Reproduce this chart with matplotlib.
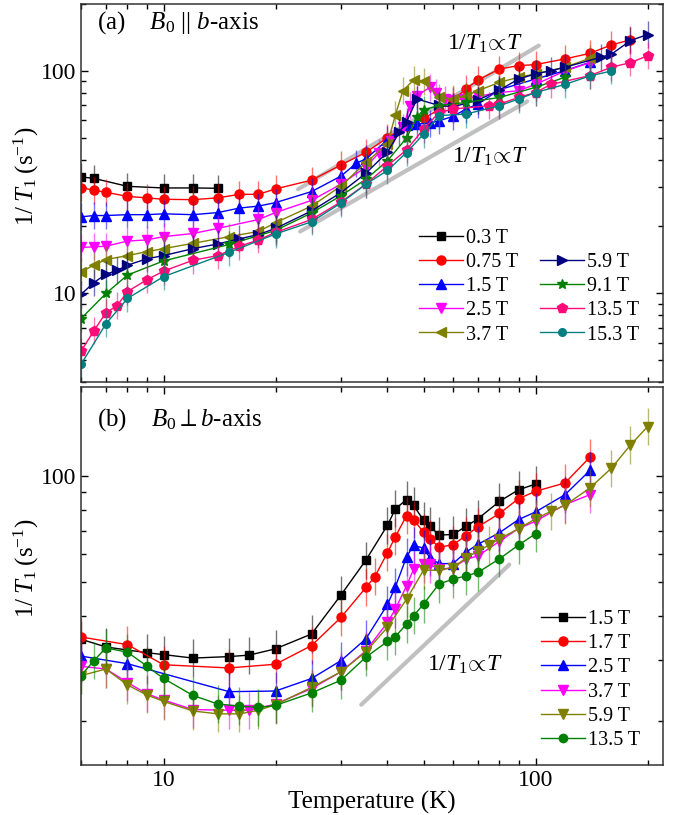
import numpy as np
import matplotlib
matplotlib.use('Agg')
import matplotlib.pyplot as plt
from matplotlib import ticker
from matplotlib.lines import Line2D

plt.rcParams['font.family'] = ['Liberation Serif', 'DejaVu Serif']
plt.rcParams['mathtext.fontset'] = 'custom'
plt.rcParams['mathtext.rm'] = 'Liberation Serif'
plt.rcParams['mathtext.it'] = 'Liberation Serif:italic'
plt.rcParams['mathtext.bf'] = 'Liberation Serif:bold'
plt.rcParams['mathtext.default'] = 'it'

# ---- panel (a): B0 || b-axis ----
t_a03 = [6, 6.5, 8, 10, 12, 14]
v_a03 = [33.4, 32.9, 30.3, 29.8, 29.8, 29.7]

t_a075 = [6, 6.5, 7, 8, 9, 10, 12, 14, 16, 18, 20, 25, 30, 35, 40, 45, 50, 55, 60, 65, 70, 80, 90, 100, 120, 140, 160, 180]
v_a075 = [29.9, 29.1, 28.5, 27.3, 26.9, 26.5, 26.4, 26.9, 27.9, 27.9, 29.5, 32.3, 37.8, 43.1, 50.1, 56.7, 61.2, 67.0, 74.0, 83.0, 91.1, 102, 105.7, 106.8, 113.3, 120, 131, 138]

t_a15 = [6, 6.5, 7, 8, 9, 10, 12, 14, 16, 18, 20, 25, 30, 33, 35, 40, 45, 48, 52, 55, 60, 65, 70, 80, 100, 120, 140]
v_a15 = [22.1, 22.4, 22.4, 22.6, 22.6, 22.8, 22.6, 23.1, 24.2, 24.7, 25.6, 28.7, 33.7, 38.5, 40.3, 49, 57.2, 57.7, 58.3, 59.7, 62.5, 67.4, 71.0, 82.4, 92.0, 100.3, 109.4]

t_a25 = [6, 6.5, 7, 8, 9, 10, 12, 14, 18, 20, 25, 30, 35, 38, 41, 44, 46, 48, 52, 54, 57, 60, 64, 70, 80, 90, 100, 120, 140]
v_a25 = [16.1, 16.2, 16.3, 17.2, 17.4, 18.0, 18.6, 19.6, 21.5, 23.1, 26.2, 31, 37, 43, 48.6, 55.8, 69.8, 77.4, 84.4, 80, 74.8, 74, 74.8, 77, 80, 81.5, 87, 100, 109]

t_a37 = [6, 6.5, 7, 8, 9, 10, 12, 15, 18, 20, 25, 30, 35, 40, 42, 44, 47, 50, 55, 60, 65, 70, 80, 90, 100, 120, 140]
v_a37 = [12.5, 13.4, 14.2, 14.8, 15.4, 15.9, 16.8, 18.0, 19.0, 20.8, 24.7, 30.4, 38.8, 47, 63.4, 81.5, 91.1, 90.1, 76, 75, 77.4, 81.5, 88.9, 93.7, 97, 104, 114]

t_a59 = [6, 6.5, 7, 7.5, 8, 9, 10, 12, 14, 16, 18, 20, 25, 30, 35, 40, 43, 45, 48, 55, 60, 70, 80, 90, 100, 110, 120, 150, 160, 180, 200]
v_a59 = [9.9, 11.2, 12.2, 12.7, 13.4, 14.3, 14.8, 15.9, 16.7, 17.6, 18.4, 19.6, 23.5, 28.4, 34.7, 43.2, 52.9, 59.1, 74.8, 70, 69, 74, 82, 92, 97, 100.3, 103.9, 115.3, 119, 137, 145.8]

t_a91 = [6, 7, 8, 10, 15, 20, 25, 30, 35, 40, 45, 48, 50, 55, 65, 80, 100, 120]
v_a91 = [7.7, 10.0, 12.1, 14.0, 16.6, 19.2, 23, 27.5, 32.6, 39.5, 50, 62, 67, 69.8, 72.2, 76, 84.4, 93.7]

t_a135 = [6, 6.5, 7, 7.5, 8, 9, 10, 12, 14, 16, 18, 20, 25, 30, 35, 40, 45, 50, 55, 60, 75, 80, 90, 100, 110, 140, 160, 180, 200]
v_a135 = [5.5, 6.8, 8.2, 8.8, 10.2, 11.5, 12.6, 14.1, 14.8, 16.3, 17.4, 18.8, 21.5, 25.8, 31, 37.5, 44.2, 54.8, 65, 67.4, 69.8, 71, 76, 80, 87, 95.3, 104, 109, 117]

t_a153 = [6, 7, 8, 10, 15, 20, 25, 30, 35, 40, 45, 50, 55, 65, 80, 90, 100, 120, 140, 160]
v_a153 = [4.8, 7.3, 9.5, 11.9, 15.3, 18.5, 21, 25.5, 31, 35.7, 43, 52, 63, 64, 69.8, 74.8, 80, 87, 95, 100]

labels_a = ['0.3 T', '0.75 T', '1.5 T', '2.5 T', '3.7 T', '5.9 T', '9.1 T', '13.5 T', '15.3 T']

# ---- panel (b): B0 perp b-axis ----
t_b15 = [6, 7, 9, 10, 12, 15, 17, 20, 25, 30, 35, 40, 42, 45, 47, 50, 52, 55, 60, 65, 70, 80, 90, 100]
v_b15 = [34.3, 32.6, 31.4, 31.0, 30.3, 30.6, 30.9, 32.2, 35.5, 45.9, 57.7, 72.6, 80.8, 85.9, 82.7, 75, 72.2, 68, 68.3, 72, 75.7, 84.9, 91.6, 95.1]

t_b17 = [6, 8, 10, 15, 20, 25, 30, 35, 37, 40, 42, 45, 47, 50, 52, 55, 60, 65, 70, 80, 90, 100, 120, 140]
v_b17 = [34.8, 33.1, 29.0, 28.4, 29.1, 32.9, 39.6, 48.2, 51.8, 60.6, 67.3, 77.3, 75.3, 69.3, 66.5, 62.8, 63.8, 67.8, 71.8, 78.4, 86.4, 90.7, 95.8, 113.5]

t_b25 = [6, 8, 15, 20, 25, 30, 35, 40, 42, 45, 47, 50, 52, 55, 60, 65, 70, 80, 90, 100, 120, 140]
v_b25 = [30.7, 29.2, 24.3, 24.4, 26.5, 29.8, 34.4, 43.1, 48.4, 58.9, 63.6, 62.4, 58.6, 56.4, 56.4, 60.8, 64, 69.1, 75.3, 79.2, 88.7, 104]

t_b37 = [6, 7, 8, 9, 10, 12, 15, 17, 20, 25, 30, 35, 40, 42, 45, 47, 50, 52, 55, 60, 65, 70, 80, 90, 100, 120, 140]
v_b37 = [28.7, 28.2, 25.8, 24.0, 23.0, 21.6, 21.5, 21.5, 22.4, 24.8, 27.7, 31.8, 38.3, 41.8, 48.7, 54.3, 56.1, 56.1, 54.3, 54.9, 58.0, 59.3, 65.3, 71, 74.5, 83.1, 88.7]

t_b59 = [6, 7, 8, 9, 10, 12, 14, 16, 18, 20, 25, 30, 35, 40, 45, 50, 55, 60, 65, 70, 75, 80, 90, 100, 110, 120, 140, 160, 180, 200]
v_b59 = [27.0, 28.2, 25.4, 23.8, 22.8, 21.4, 21.0, 21.0, 21.5, 22.3, 25, 27.7, 31.6, 37.1, 44.6, 54.0, 54.0, 54.9, 58.5, 61.2, 63.7, 66.4, 70.9, 75.7, 79.5, 82.7, 92.7, 105.6, 123, 138.7]

t_b135 = [6, 6.5, 7, 8, 9, 10, 12, 14, 16, 18, 20, 25, 30, 35, 40, 42, 45, 47, 50, 55, 60, 65, 70, 80, 90, 100]
v_b135 = [27.0, 29.8, 32.4, 31.5, 28.8, 26.5, 23.7, 22.4, 22.1, 21.9, 22.2, 24.1, 26.2, 30.5, 33.8, 34.9, 37.9, 40.0, 43.2, 49.3, 50.9, 52.0, 53.2, 58.2, 63.7, 68.6]

labels_b = ['1.5 T', '1.7 T', '2.5 T', '3.7 T', '5.9 T', '13.5 T']

# guide lines 1/T1 ~ T (end points)
guide_a1_t = [23, 102]
guide_a1_v = [29.4, 130]
guide_a2_t = [23.3, 95]
guide_a2_v = [19.0, 73]
guide_b_t = [34, 85]
guide_b_v = [22.3, 56]

err_a = 0.15
err_b = 0.13

fig = plt.figure(figsize=(6.79, 8.15), dpi=100)
ax1 = fig.add_axes([0.1193, 0.5313, 0.857, 0.4638])
ax2 = fig.add_axes([0.1193, 0.0613, 0.857, 0.4638])


def draw(ax, t, v, color, marker, ms, err, label):
    t = np.array(t)
    v = np.array(v)
    ax.errorbar(t, v, yerr=[v - v / (1 + err), v * err], fmt='none',
                ecolor=color, elinewidth=1.0, alpha=0.55, capsize=0)
    h, = ax.plot(t, v, color=color, marker=marker, ms=ms, lw=1.0,
                 mec=color, label=label)
    return h


style_a = [('black', 's', 5.5), ('#ff0000', 'o', 6.5), ('#0000ff', '^', 7),
           ('#ff00ff', 'v', 7), ('#808000', '<', 7), ('#000080', '>', 7),
           ('#008000', '*', 7.5), ('#ff0a78', 'p', 7), ('#008080', 'o', 5.5)]
data_a = [(t_a03, v_a03), (t_a075, v_a075), (t_a15, v_a15), (t_a25, v_a25),
          (t_a37, v_a37), (t_a59, v_a59), (t_a91, v_a91), (t_a135, v_a135),
          (t_a153, v_a153)]

style_b = [('black', 's', 5.5), ('#ff0000', 'o', 6.5), ('#0000ff', '^', 7),
           ('#ff00ff', 'v', 7), ('#808000', 'v', 7), ('#008000', 'o', 6)]
data_b = [(t_b15, v_b15), (t_b17, v_b17), (t_b25, v_b25), (t_b37, v_b37),
          (t_b59, v_b59), (t_b135, v_b135)]

ax1.plot(guide_a1_t, guide_a1_v, color='#c0c0c0', lw=3, solid_capstyle='round', zorder=0)
ax1.plot(guide_a2_t, guide_a2_v, color='#c0c0c0', lw=3, solid_capstyle='round', zorder=0)
ax2.plot(guide_b_t, guide_b_v, color='#c0c0c0', lw=3, solid_capstyle='round', zorder=0)

handles_a = []
for (t, v), (c, m, ms), lab in zip(data_a, style_a, labels_a):
    handles_a.append(draw(ax1, t, v, c, m, ms, err_a, lab))
handles_b = []
for (t, v), (c, m, ms), lab in zip(data_b, style_b, labels_b):
    handles_b.append(draw(ax2, t, v, c, m, ms, err_b, lab))

blank = Line2D([], [], linestyle='none', marker='none')
leg_h = handles_a[:5] + [blank] + handles_a[5:]
leg_l = labels_a[:5] + [''] + labels_a[5:]
ax1.legend(leg_h, leg_l, ncol=2, loc='upper left', bbox_to_anchor=(0.58, 0.405),
           frameon=False, fontsize=14.5, handlelength=2.2, handletextpad=0.15,
           columnspacing=1.1, labelspacing=0.25, borderpad=0, borderaxespad=0)
ax2.legend(handles_b, labels_b, loc='upper left', bbox_to_anchor=(0.79, 0.41),
           frameon=False, fontsize=14.5, handlelength=2.2, handletextpad=0.15,
           labelspacing=0.25, borderpad=0, borderaxespad=0)

ylabel = r'$1/\;T_1\;\mathrm{(s^{-1})}$'
for ax, ylim, ylab_y in [(ax1, (4, 200), 0.545), (ax2, (15, 180), 0.52)]:
    ax.set_xscale('log')
    ax.set_yscale('log')
    ax.set_xlim(6, 220)
    ax.set_ylim(*ylim)
    ax.xaxis.set_major_locator(ticker.LogLocator(base=10))
    ax.xaxis.set_minor_locator(ticker.LogLocator(base=10, subs=np.arange(2, 10)))
    ax.yaxis.set_major_locator(ticker.LogLocator(base=10))
    ax.yaxis.set_minor_locator(ticker.LogLocator(base=10, subs=np.arange(2, 10)))
    ax.xaxis.set_major_formatter(ticker.FormatStrFormatter('%g'))
    ax.yaxis.set_major_formatter(ticker.FormatStrFormatter('%g'))
    ax.xaxis.set_minor_formatter(ticker.NullFormatter())
    ax.yaxis.set_minor_formatter(ticker.NullFormatter())
    ax.tick_params(which='both', direction='in', top=True, right=True, labelsize=17)
    ax.tick_params(which='major', length=5, width=1)
    ax.tick_params(which='minor', length=3.5, width=1)
    for s in ax.spines.values():
        s.set_linewidth(1.1)
        s.set_color('#333333')
    ax.set_ylabel(ylabel, fontsize=18)
    ax.yaxis.set_label_coords(-0.068, ylab_y)

ax1.tick_params(labelbottom=False)
ax2.set_xlabel('Temperature (K)', fontsize=18, labelpad=0)

ax1.text(0.027, 0.934, r'(a)    $B_0$ || $b$-axis', transform=ax1.transAxes, fontsize=18)
ax2.text(0.027, 0.899, r'(b)    $B_0\perp b$-axis', transform=ax2.transAxes, fontsize=18)

note = r'$1/T_1\!\propto\! T$'
ax1.text(57.7, 125, note, fontsize=17)
ax1.text(59.6, 38.5, note, fontsize=17)
ax2.text(51, 27.9, note, fontsize=17)

fig.savefig('out.png', dpi=100)
